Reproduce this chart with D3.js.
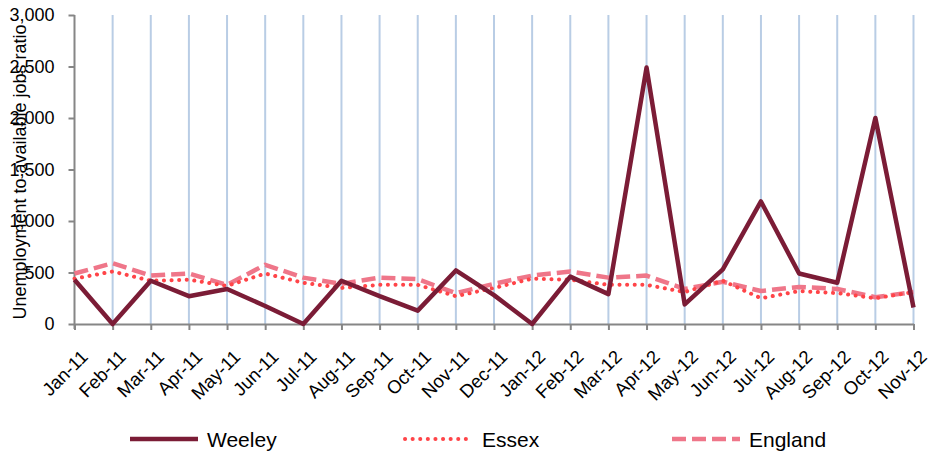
<!DOCTYPE html>
<html>
<head>
<meta charset="utf-8">
<script src="https://cdn.jsdelivr.net/npm/d3@7"></script>
<style>
  body { margin: 0; background: #fff; }
  text { font-family: "Liberation Sans", Arial, sans-serif; fill: #000; }
</style>
</head>
<body>
<svg width="932" height="454"></svg>
<script>
var months = ["Jan-11","Feb-11","Mar-11","Apr-11","May-11","Jun-11","Jul-11","Aug-11","Sep-11","Oct-11","Nov-11","Dec-11",
              "Jan-12","Feb-12","Mar-12","Apr-12","May-12","Jun-12","Jul-12","Aug-12","Sep-12","Oct-12","Nov-12"];
var weeley  = [430, 0, 420, 270, 340, 175, 0, 420, 270, 130, 520, 280, 0, 460, 290, 2490, 190, 530, 1190, 490, 400, 2000, 160];
var essex   = [440, 510, 420, 430, 370, 490, 400, 350, 380, 380, 270, 350, 440, 430, 380, 380, 310, 420, 250, 320, 300, 250, 310];
var england = [490, 590, 470, 490, 380, 575, 450, 390, 450, 435, 300, 390, 470, 510, 450, 470, 340, 410, 320, 360, 340, 260, 310];
var yTicks = [0, 500, 1000, 1500, 2000, 2500, 3000];

var svg = d3.select("svg");
var plotLeft = 74.5, plotRight = 913.5, plotTop = 15, plotBottom = 324;

var xScale = d3.scalePoint().domain(months).range([plotLeft, plotRight]);
var yScale = d3.scaleLinear().domain([0, 3000]).range([plotBottom, plotTop]);

// vertical gridlines
svg.append("g")
  .selectAll("line")
  .data(months.slice(1))
  .enter()
  .append("line")
  .attr("x1", function(d){return xScale(d);})
  .attr("x2", function(d){return xScale(d);})
  .attr("y1", plotTop)
  .attr("y2", plotBottom)
  .attr("stroke", "#b9cde5")
  .attr("stroke-width", 2);

var yAxis = svg.append("g")
  .attr("transform", "translate(" + plotLeft + ",0)")
  .call(d3.axisLeft(yScale).tickValues(yTicks).tickSize(6).tickPadding(14).tickFormat(d3.format(",")));
yAxis.select(".domain").attr("d", "M0," + plotTop + "V" + (plotBottom + 5));

var xAxis = svg.append("g")
  .attr("transform", "translate(0," + plotBottom + ")")
  .call(d3.axisBottom(xScale).tickSize(6).tickSizeOuter(0));

svg.selectAll(".domain, .tick line").attr("stroke", "#868686").attr("stroke-width", 2);
yAxis.selectAll("text").style("font-size", "18px").attr("fill", "#000");
xAxis.selectAll("text")
  .style("font-size", "18.5px")
  .attr("fill", "#000")
  .attr("text-anchor", "end")
  .attr("dy", null)
  .attr("y", 0)
  .attr("transform", "translate(14,34) rotate(-45)");

svg.append("text")
  .attr("transform", "translate(26,172) rotate(-90)")
  .attr("text-anchor", "middle")
  .style("font-size", "18px")
  .text("Unemployment to available jobs ratio");

var series = [
  {name: "Weeley", values: weeley, color: "#7b1c36", width: 4.5, dash: null, cap: "butt"},
  {name: "Essex", values: essex, color: "#ff4448", width: 4, dash: "0.1 7.5", cap: "round"},
  {name: "England", values: england, color: "#ef7689", width: 4.5, dash: "14 6", cap: "butt"}
];

var line = d3.line()
  .x(function(d, i){return xScale(months[i]);})
  .y(function(d){return yScale(d);});

// draw back to front so Weeley sits on top
series.slice().reverse().forEach(function(s){
  svg.append("path")
    .datum(s.values)
    .attr("d", line)
    .attr("fill", "none")
    .attr("stroke", s.color)
    .attr("stroke-width", s.width)
    .attr("stroke-dasharray", s.dash)
    .attr("stroke-linecap", s.cap)
    .attr("stroke-linejoin", "round");
});

var legendX = [130, 405, 672];
var legend = svg.selectAll(".legend")
  .data(series)
  .enter()
  .append("g")
  .attr("transform", function(d, i){return "translate(" + legendX[i] + ",439)";});

legend.append("line")
  .attr("x1", 0).attr("x2", 68)
  .attr("stroke", function(d){return d.color;})
  .attr("stroke-width", function(d){return d.width;})
  .attr("stroke-dasharray", function(d){return d.dash;})
  .attr("stroke-linecap", function(d){return d.cap;});

legend.append("text")
  .attr("x", 77)
  .attr("y", 8)
  .style("font-size", "21px")
  .text(function(d){return d.name;});
</script>
</body>
</html>
